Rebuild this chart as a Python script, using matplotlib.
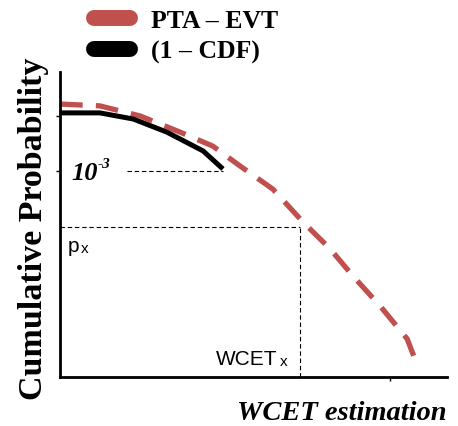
import matplotlib
matplotlib.use("Agg")
import matplotlib.pyplot as plt
from matplotlib.lines import Line2D

# PTA-EVT projection (dashed red) and empirical 1-CDF (black), arbitrary units
evt_x = [0, 10.3, 20.7, 31.0, 39.5, 46.5, 55.0, 62.8, 69.8, 75.7, 82.7, 89.7, 91.7]
evt_y = [89.5, 88.9, 85.6, 80.3, 75.7, 69.2, 61.6, 50.8, 42.0, 33.1, 23.3, 12.5, 5.9]
cdf_x = [0, 10.3, 18.9, 27.6, 37.0, 42.1]
cdf_y = [86.6, 86.6, 84.6, 80.3, 74.1, 68.2]

level_1e3 = 67.5   # 10^-3 level
level_px = 49.2    # p_x level
wcet_x = 62.0      # WCET_x
y_ticks = [85.6, 67.5]
x_ticks = [85.3]

red = "#C0504D"
serif = "Liberation Serif"
sans = "Liberation Sans"

fig = plt.figure(figsize=(4.58, 4.27), dpi=100)
ax = fig.add_axes([0.131, 0.1148, 0.845, 0.7142])

ax.plot(evt_x, evt_y, color=red, lw=3.8, dashes=(4.3, 2.5))
ax.plot(cdf_x, cdf_y, color="black", lw=3.6, solid_capstyle="butt")

# guide lines
dash = (0, (4, 2.5))
ax.plot([17.3, cdf_x[-1]], [level_1e3, level_1e3], color="black", lw=0.8, ls=dash)
ax.plot([0, wcet_x], [level_px, level_px], color="black", lw=0.8, ls=dash)
ax.plot([wcet_x, wcet_x], [0, level_px], color="black", lw=0.8, ls=dash)

ax.text(3.0, level_1e3 - 0.6, "10", fontsize=19, family=serif, style="italic",
        fontweight="bold", va="center", ha="left")
ax.text(9.8, level_1e3 + 2.4, "-3", fontsize=11, family=serif, style="italic",
        fontweight="bold", va="center", ha="left")
ax.text(2.0, 43.2, "p", fontsize=15, family=sans, va="center")
ax.text(5.3, 42.3, "x", fontsize=11, family=sans, va="center")
ax.text(40.3, 6.2, "WCET", fontsize=15, family=sans, va="center")
ax.text(56.8, 5.4, "x", fontsize=11, family=sans, va="center")

ax.set_xlim(0, 100)
ax.set_ylim(0, 100)
ax.set_xticks(x_ticks)
ax.set_yticks(y_ticks)
ax.set_xticklabels([])
ax.set_yticklabels([])
ax.tick_params(length=3, width=1)
for s in ["top", "right"]:
    ax.spines[s].set_visible(False)
for s in ["left", "bottom"]:
    ax.spines[s].set_linewidth(2)

ax.set_ylabel("Cumulative Probability", fontsize=24.5, family=serif,
              fontweight="bold")
ax.yaxis.set_label_coords(-0.028, 0.49)
ax.set_xlabel("WCET estimation", fontsize=20.5, family=serif, fontweight="bold",
              style="italic", loc="right", labelpad=10)

handles = [Line2D([0], [0], color=red, lw=11.5, solid_capstyle="round"),
           Line2D([0], [0], color="black", lw=11.5, solid_capstyle="round")]
fig.legend(handles, ["PTA \u2013 EVT", "(1 \u2013 CDF)"], loc="upper left",
           bbox_to_anchor=(0.155, 1.030), frameon=False, handlelength=1.4,
           handletextpad=0.8, labelspacing=0.3,
           prop={"family": serif, "weight": "bold", "size": 18.5})

fig.savefig("out.png", dpi=100)
